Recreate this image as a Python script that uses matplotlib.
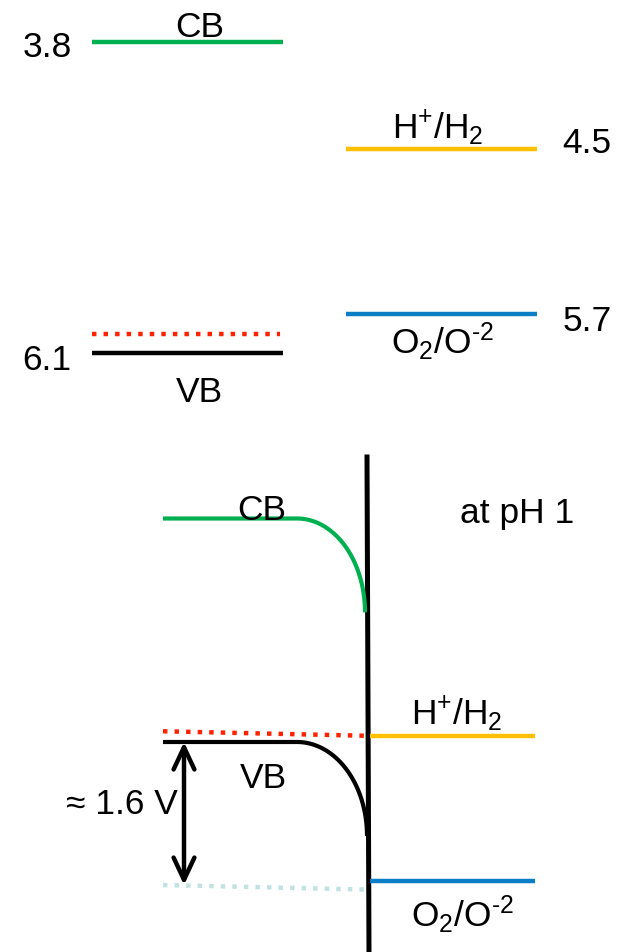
import numpy as np
import matplotlib.pyplot as plt

plt.rcParams['font.family'] = ['Liberation Sans', 'DejaVu Sans']
plt.rcParams['mathtext.fontset'] = 'custom'
plt.rcParams['mathtext.rm'] = 'Liberation Sans'
plt.rcParams['mathtext.it'] = 'Liberation Sans:italic'
plt.rcParams['mathtext.sf'] = 'Liberation Sans'

# flat-band levels, eV below vacuum
CB_EDGE = 3.8
VB_EDGE = 6.1
FERMI = 5.9
REDOX_LABELS = ['H$^{+}$/H$_{2}$', 'O$_{2}$/O$^{\\text{-2}}$']
REDOX_E = [4.5, 5.7]

# in contact with the electrolyte at pH 1
PH1_CB = 3.6
PH1_VB = 6.1
PH1_FERMI = [5.98, 6.03]
PH1_REDOX = [6.03, 7.65]
PH1_DROP = 1.6          # hole level offset below the VB edge
PH1_DROP_TILT = 0.05
BEND = 1.05             # band bending at the interface

GREEN = '#00b050'
YELLOW = '#ffc000'
BLUE = '#0a7fc8'
RED = '#ff2200'
PALE = '#c2e2e2'
FS = 25.5
LW = 3.2
DOTS = (0, (1, 1.6))

fig = plt.figure(figsize=(6.31, 9.52), dpi=100)


def label(ax, s, xy, dx, dy, ha='center'):
    ax.annotate(s, xy=xy, xytext=(dx, dy), textcoords='offset pixels',
                ha=ha, va='baseline', fontsize=FS)


# ---- top: energy level diagram (not to scale, piecewise axis) ----
E_KNOTS = [3.5, 3.8, 4.5, 5.7, 6.1, 6.45]
P_KNOTS = [0, 42, 149, 314, 353, 420]

ax = fig.add_axes([0, 532 / 952, 1, 420 / 952])
ax.set_yscale('function', functions=(lambda e: np.interp(e, E_KNOTS, P_KNOTS),
                                     lambda p: np.interp(p, P_KNOTS, E_KNOTS)))
ax.set_xlim(0, 631)
ax.set_ylim(E_KNOTS[-1], E_KNOTS[0])
ax.axis('off')

left = [92, 283]
right = [346, 537]
mid_l = sum(left) / 2
mid_r = sum(right) / 2

ax.plot(left, [CB_EDGE] * 2, color=GREEN, lw=LW, solid_capstyle='butt')
ax.plot(left, [VB_EDGE] * 2, color='black', lw=LW, solid_capstyle='butt')
ax.plot([92, 280], [FERMI] * 2, color=RED, lw=LW, ls=DOTS)
ax.plot(right, [REDOX_E[0]] * 2, color=YELLOW, lw=LW, solid_capstyle='butt')
ax.plot(right, [REDOX_E[1]] * 2, color=BLUE, lw=LW, solid_capstyle='butt')

label(ax, f'{CB_EDGE}', (left[0], CB_EDGE), -20, -15, ha='right')
label(ax, 'CB', (mid_l, CB_EDGE), 12, 5)
label(ax, f'{VB_EDGE}', (left[0], VB_EDGE), -21, -17, ha='right')
label(ax, 'VB', (mid_l, VB_EDGE), 12, -49)
label(ax, REDOX_LABELS[0], (mid_r, REDOX_E[0]), -4, 11)
label(ax, f'{REDOX_E[0]}', (right[1], REDOX_E[0]), 25, -4, ha='left')
label(ax, REDOX_LABELS[1], (mid_r, REDOX_E[1]), 1, -40)
label(ax, f'{REDOX_E[1]}', (right[1], REDOX_E[1]), 26, -17, ha='left')

# ---- bottom: band bending at pH 1 ----
PX_PER_EV = 89.4
bx = fig.add_axes([0, 0, 1, 512 / 952])
bx.set_xlim(0, 631)
bx.set_ylim(PH1_VB + 210 / PX_PER_EV, PH1_VB - 302 / PX_PER_EV)
bx.axis('off')

# semiconductor / electrolyte interface
bx.plot([367, 369], [PH1_VB - 285 / PX_PER_EV, PH1_VB + 212 / PX_PER_EV],
        color='black', lw=3.6, clip_on=False)

t = np.linspace(0, np.pi / 2, 80)
for edge, color, width in [(PH1_CB, GREEN, 68), (PH1_VB, 'black', 70)]:
    xs = np.concatenate([[163], 297 + width * np.sin(t)])
    ys = np.concatenate([[edge], edge + BEND * (1 - np.cos(t))])
    bx.plot(xs, ys, color=color, lw=3.0, solid_capstyle='butt')

bx.plot([163, 365], PH1_FERMI, color=RED, lw=LW, ls=DOTS)
hole = PH1_VB + PH1_DROP
bx.plot([163, 365], [hole, hole + PH1_DROP_TILT], color=PALE, lw=LW, ls=DOTS)
bx.plot([370, 535], [PH1_REDOX[0]] * 2, color=YELLOW, lw=LW, solid_capstyle='butt')
bx.plot([370, 535], [PH1_REDOX[1]] * 2, color=BLUE, lw=LW, solid_capstyle='butt')

bx.annotate('', xy=(184, hole), xytext=(184, PH1_VB),
            arrowprops=dict(arrowstyle='<->,head_length=1.6,head_width=0.75',
                            lw=3.2, color='black', shrinkA=0, shrinkB=0))

label(bx, 'CB', (230, PH1_CB), 32, -2)
label(bx, 'at pH 1', (460, PH1_CB), 0, -4, ha='left')
label(bx, REDOX_LABELS[0], (452.5, PH1_REDOX[0]), 4.5, 11)
label(bx, REDOX_LABELS[1], (452.5, PH1_REDOX[1]), 10, -47)
label(bx, 'VB', (230, PH1_VB), 33.5, -46)
label(bx, f'\u2248 {PH1_DROP} V', (184, PH1_VB + PH1_DROP / 2), -6, 0, ha='right')

fig.savefig('out.png', dpi=100)
